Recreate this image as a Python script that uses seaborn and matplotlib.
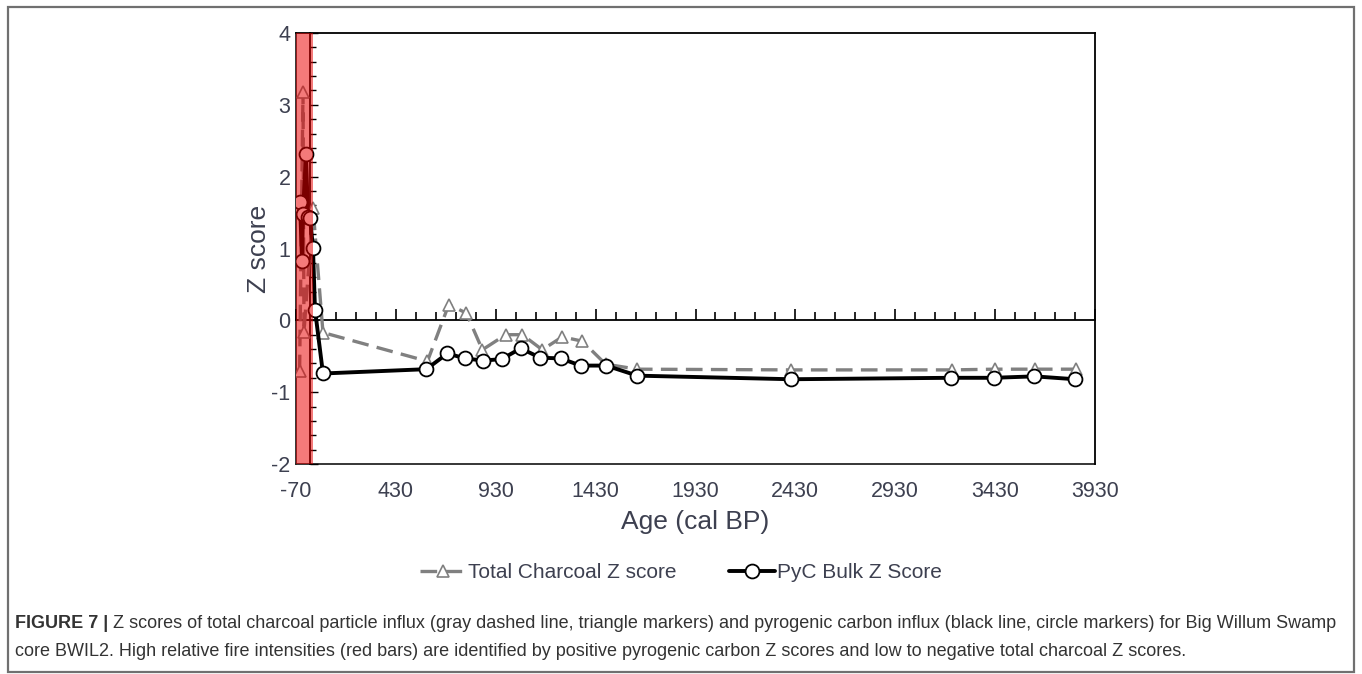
"""
Z scores: total charcoal vs PyC bulk, Big Willum Swamp core BWIL2.
"""

import matplotlib.pyplot as plt
import numpy as np
import pandas as pd
import seaborn as sns
from matplotlib.patches import Rectangle
from matplotlib.ticker import MultipleLocator, FixedLocator

# Datos
charcoal_age = [-52, -35, -30, 15, 65, 588, 695, 783, 863, 980, 1063, 1163,
                1263, 1363, 1480, 1638, 2408, 3213, 3430, 3630, 3835]
charcoal_z = [-0.71, 3.18, -0.16, 1.57, -0.17, -0.57, 0.22, 0.10, -0.41, -0.20,
              -0.20, -0.41, -0.23, -0.29, -0.61, -0.68, -0.69, -0.69, -0.68,
              -0.68, -0.68]

pyc_age = [-68, -50, -40, -35, -20, -10, 0, 15, 25, 65, 583, 688, 775, 867,
           960, 1055, 1152, 1255, 1355, 1483, 1638, 2408, 3208, 3422, 3627, 3830]
pyc_z = [1.58, 1.65, 0.83, 1.48, 2.32, 1.44, 1.43, 1.01, 0.15, -0.74, -0.68,
         -0.46, -0.53, -0.56, -0.54, -0.39, -0.52, -0.53, -0.63, -0.63, -0.77,
         -0.82, -0.80, -0.80, -0.78, -0.82]

fire_start, fire_end = -70, 15

x_ticks = [-70, 430, 930, 1430, 1930, 2430, 2930, 3430, 3930]
y_ticks = [-2, -1, 0, 1, 2, 3, 4]

CAPTION_BOLD = "FIGURE 7 | "
CAPTION_1 = ("Z scores of total charcoal particle influx (gray dashed line, triangle markers) "
             "and pyrogenic carbon influx (black line, circle markers) for Big Willum Swamp")
CAPTION_2 = ("core BWIL2. High relative fire intensities (red bars) are identified by positive "
             "pyrogenic carbon Z scores and low to negative total charcoal Z scores.")


def main():
    sns.set_style("white")
    plt.rcParams["font.family"] = ["Liberation Sans", "DejaVu Sans"]
    tick_color = "#3d4050"

    fig = plt.figure(figsize=(13.62, 6.74), dpi=100)
    ax = fig.add_axes([296 / 1362, 1 - 464 / 674, (1095 - 296) / 1362, (464 - 33) / 674])

    df_c = pd.DataFrame({"age": charcoal_age, "z": charcoal_z})
    df_p = pd.DataFrame({"age": pyc_age, "z": pyc_z})

    sns.lineplot(data=df_c, x="age", y="z", ax=ax, estimator=None, sort=False,
                 color="#808080", linewidth=2.4, marker="^", markersize=9,
                 markerfacecolor="white", markeredgecolor="#808080",
                 markeredgewidth=1.2, zorder=3)
    sns.lineplot(data=df_p, x="age", y="z", ax=ax, estimator=None, sort=False,
                 color="black", linewidth=2.8, marker="o", markersize=10,
                 markerfacecolor="white", markeredgecolor="black",
                 markeredgewidth=1.3, zorder=4)
    l_char, l_pyc = ax.lines[0], ax.lines[1]
    l_char.set_dashes((5, 2.5))

    ax.axvspan(fire_start, fire_end, color="#eb0000", alpha=0.52, lw=0, zorder=6)

    ax.set_xlim(x_ticks[0], x_ticks[-1])
    ax.set_ylim(y_ticks[0], y_ticks[-1])

    # ejes que cruzan en cero
    ax.spines["bottom"].set_position(("data", 0))
    ax.spines["left"].set_position(("data", 0))
    for s in ax.spines.values():
        s.set_color("black")
        s.set_linewidth(1.3)
    ax.xaxis.set_major_locator(FixedLocator(x_ticks))
    ax.xaxis.set_minor_locator(MultipleLocator(100, offset=30))
    ax.yaxis.set_major_locator(FixedLocator(y_ticks))
    ax.yaxis.set_minor_locator(MultipleLocator(0.2))
    ax.tick_params(axis="x", which="both", direction="in", bottom=True,
                   labelbottom=False, color="black", width=1.2)
    ax.tick_params(axis="x", which="major", length=8)
    ax.tick_params(axis="x", which="minor", length=6)
    ax.tick_params(axis="y", which="both", direction="in", left=True,
                   labelleft=False, color="black", width=1.0)
    ax.tick_params(axis="y", which="major", length=6)
    ax.tick_params(axis="y", which="minor", length=4)
    ax.set_xlabel("")
    ax.set_ylabel("")

    secx = ax.secondary_xaxis("bottom")
    secx.set_xticks(x_ticks)
    secx.set_xticklabels([str(t) for t in x_ticks])
    secx.tick_params(length=0, labelsize=15.5, labelcolor=tick_color, pad=12)
    secx.spines["bottom"].set_linewidth(1.3)
    secx.set_xlabel("Age (cal BP)", fontsize=19, color=tick_color, labelpad=6)

    secy = ax.secondary_yaxis("left")
    secy.set_yticks(y_ticks)
    secy.set_yticklabels([str(t) for t in y_ticks])
    secy.tick_params(length=0, labelsize=15.5, labelcolor=tick_color, pad=4)
    secy.spines["left"].set_linewidth(1.3)
    secy.set_ylabel("Z score", fontsize=19, color=tick_color, labelpad=0)

    fig.legend([l_char, l_pyc], ["Total Charcoal Z score", "PyC Bulk Z Score"],
               loc="center", bbox_to_anchor=(0.5, 1 - 573 / 674), ncol=2,
               frameon=False, fontsize=15, handlelength=2.2, handletextpad=0.1,
               columnspacing=2.5, labelcolor=tick_color)

    # marco exterior
    fig.patches.append(Rectangle((8 / 1362, 2 / 674), 1346 / 1362, 665 / 674,
                                 transform=fig.transFigure, fill=False,
                                 edgecolor="#707070", linewidth=1.6))

    cap_font = ["Liberation Sans Narrow", "Liberation Sans", "DejaVu Sans"]
    t_bold = fig.text(15 / 1362, 1 - 624 / 674, CAPTION_BOLD, fontsize=13,
                      fontweight="bold", family=cap_font, color="#333333", va="center")
    fig.canvas.draw()
    bb = t_bold.get_window_extent().transformed(fig.transFigure.inverted())
    fig.text(bb.x1, 1 - 624 / 674, CAPTION_1, fontsize=13, family=cap_font,
             color="#333333", va="center")
    fig.text(15 / 1362, 1 - 652 / 674, CAPTION_2, fontsize=13, family=cap_font,
             color="#333333", va="center")

    fig.savefig("out.png", dpi=100)
    plt.close(fig)


if __name__ == "__main__":
    main()
